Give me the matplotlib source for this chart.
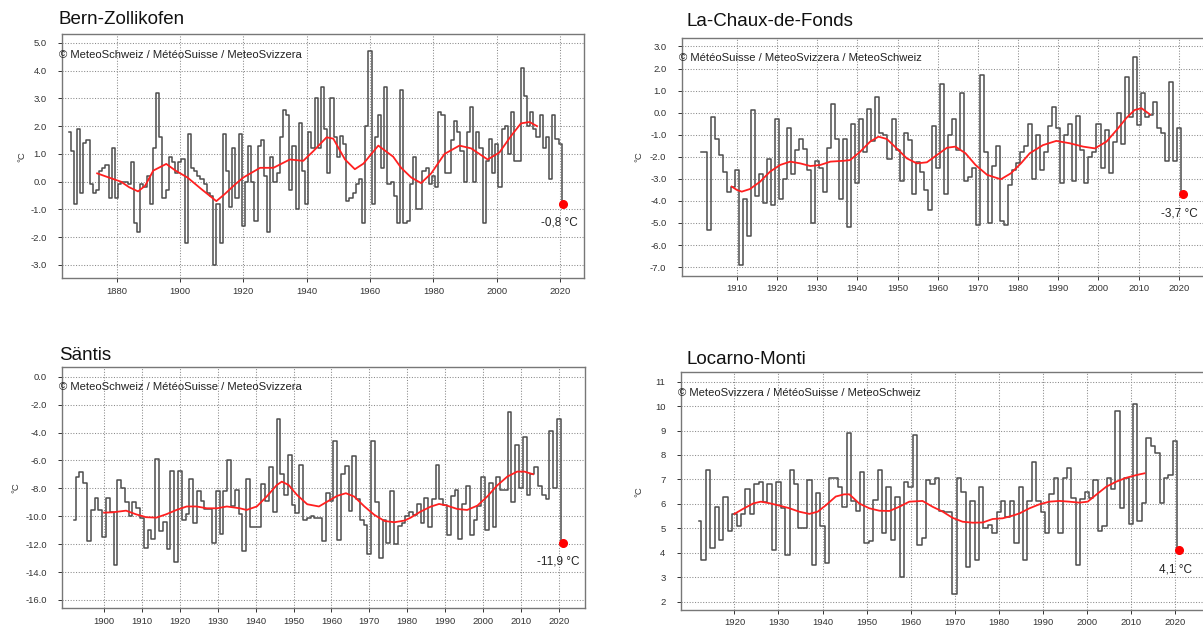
import numpy as np
import matplotlib
matplotlib.use("Agg")
import matplotlib.pyplot as plt

plt.rcParams['font.family'] = ['Liberation Sans', 'DejaVu Sans']

# ---------------- data ----------------
bern_temp = [1.8, 1.1, -0.8, 1.9, -0.4, 1.4, 1.5, -0.1, -0.4, -0.3,
             0.4, 0.5, 0.6, -0.6, 1.2, -0.6, -0.1, 0.0, 0.0, -0.1,
             0.7, -1.5, -1.8, -0.1, -0.2, 0.2, -0.8, 1.2, 3.2, 1.6,
             -0.6, -0.3, 0.9, 0.7, 0.3, 0.7, 0.8, -2.2, 1.7, 0.5,
             0.4, 0.2, 0.1, -0.1, -0.4, -0.5, -3.0, -0.8, -2.2, 1.7,
             0.4, -0.9, 1.2, -0.6, 1.7, -1.6, 0.0, 1.3, 0.0, -1.4,
             1.3, 1.5, 0.2, -1.8, 0.9, 0.0, 0.3, 1.6, 2.6, 2.4,
             -0.3, 1.3, -1.0, 2.1, 0.4, -0.8, 1.8, 1.2, 3.0, 1.2,
             3.4, 1.9, 0.3, 3.0, 1.6, 0.9, 1.65, 1.35, -0.7, -0.6,
             -0.4, -0.1, 0.1, -1.5, 2.0, 4.7, -0.8, 1.6, 2.4, 0.5,
             3.4, -0.1, 0.0, -0.5, -1.5, 3.3, -1.5, -1.4, -0.1, 0.9,
             -1.0, -1.0, 0.4, 0.5, -0.1, 0.2, -0.2, 2.5, 2.4, 0.3,
             0.3, 1.5, 2.2, 1.8, 1.1, 0.0, 1.8, 2.7, 0.0, 1.8,
             1.2, -1.5, 0.75, 1.55, 0.3, 1.35, -0.2, 1.9, 2.0, 1.0,
             2.5, 0.75, 0.75, 4.1, 3.1, 2.0, 2.5, 1.9, 1.6, 2.4,
             1.2, 1.6, 0.1, 2.4, 1.55, 1.35,
             -0.8]
bern_trend_year = [1873.9, 1877.6, 1881.4, 1884.0, 1886.8, 1889.0, 1891.6, 1895.7, 1898.6,
                   1902.4, 1906.7, 1911.5, 1914.2, 1917.4, 1920.0, 1925.3, 1929.5, 1934.7,
                   1938.9, 1942.1, 1946.3, 1948.4, 1952.1, 1955.2, 1957.9, 1962.6, 1967.3,
                   1969.8, 1973.0, 1976.1, 1979.3, 1983.5, 1988.2, 1991.9, 1997.1, 2000.8,
                   2004.5, 2007.6, 2010.3, 2012.7]
bern_trend = [0.3, 0.15, 0.0, -0.2, -0.35, -0.15, 0.4, 0.64, 0.4,
              0.15, -0.26, -0.7, -0.44, -0.1, 0.15, 0.5, 0.5, 0.8,
              0.75, 1.1, 1.6, 1.55, 0.8, 0.45, 0.65, 1.3, 0.9,
              0.5, 0.15, -0.05, 0.3, 1.0, 1.3, 1.2, 0.8, 1.05,
              1.65, 2.1, 2.15, 2.0]

lcdf_temp = [-1.8, -1.8, -5.3, -0.2, -1.2, -1.9, -2.7, -3.6, -3.35, -2.6,
             -6.9, -3.9, -5.6, 0.1, -3.8, -2.8, -4.1, -2.1, -4.2, -0.3,
             -3.9, -3.0, -0.7, -2.8, -1.7, -1.2, -1.65, -2.6, -5.0, -2.2,
             -2.5, -3.6, -1.6, 0.4, -1.2, -3.9, -1.2, -5.2, -0.5, -3.2,
             -0.3, -1.8, 0.15, -1.3, 0.7, -0.9, -1.0, -2.1, -0.3, -1.7,
             -3.1, -0.9, -1.25, -3.7, -2.25, -2.7, -3.5, -4.4, -0.6, -2.5,
             1.3, -3.7, -1.0, -0.3, -1.7, 0.9, -3.1, -2.9, -2.5, -5.1,
             1.7, -1.8, -5.0, -2.4, -1.5, -4.9, -5.1, -3.3, -2.6, -2.3,
             -1.8, -1.5, -0.5, -3.0, -1.0, -2.6, -1.8, -0.6, 0.27,
             -0.7, -3.2, -1.0, -0.5, -3.1, -0.15, -1.7, -3.2, -2.0, -1.8,
             -0.5, -2.5, -0.8, -2.75, -1.35, 0.0, -1.4, 1.6, -0.2, 2.5,
             -0.55, 0.9, -0.2, -0.1, 0.5, -0.7, -0.9, -2.2, 1.4, -2.2,
             -0.7,
             -3.7]
lcdf_trend_year = [1908.75, 1910.0, 1911.25, 1913.3, 1915.8, 1918.3, 1920.8, 1923.3, 1925.8,
                   1928.3, 1930.8, 1933.3, 1936.7, 1938.2, 1940.7, 1943.2, 1945.25, 1947.3,
                   1949.8, 1952.3, 1954.8, 1957.3, 1959.8, 1962.3, 1964.4, 1966.9, 1969.4,
                   1972.3, 1975.7, 1978.2, 1980.7, 1982.9, 1986.2, 1989.5, 1992.9, 1996.2,
                   1999.1, 2002.0, 2004.5, 2007.0, 2009.0, 2010.7, 2012.8]
lcdf_trend = [-3.35, -3.5, -3.58, -3.46, -3.13, -2.67, -2.37, -2.22, -2.3,
              -2.42, -2.37, -2.22, -2.18, -2.15, -1.77, -1.31, -1.09, -1.19,
              -1.62, -2.07, -2.3, -2.25, -1.92, -1.59, -1.54, -1.84, -2.37,
              -2.82, -3.02, -2.75, -2.3, -1.84, -1.47, -1.28, -1.39, -1.54,
              -1.62, -1.31, -0.79, -0.23, 0.12, 0.2, -0.08]

saentis_temp = [-10.3, -7.2, -6.85, -7.6, -11.8, -9.55, -8.66, -9.55, -11.5, -8.66,
                -9.7, -13.5, -7.4, -8.0, -8.95, -10.0, -9.0, -9.4, -10.1, -12.25,
                -11.0, -11.6, -5.9, -11.05, -10.4, -12.35, -6.75, -13.25, -6.75, -10.3,
                -9.85, -7.3, -10.45, -8.2, -8.9, -9.5, -9.5, -11.95, -8.2, -11.3,
                -8.2, -5.95, -9.25, -8.1, -9.85, -12.5, -7.3, -10.75, -10.75, -10.75,
                -7.7, -8.9, -6.5, -9.7, -3.0, -7.0, -8.5, -5.6, -9.2, -9.8,
                -6.3, -10.3, -10.15, -10.0, -10.15, -10.15, -11.8, -8.3, -8.9, -4.6,
                -11.7, -7.0, -6.4, -9.6, -5.7, -8.8, -10.3, -10.6, -12.7, -4.6,
                -8.95, -13.0, -10.3, -11.95, -8.2, -12.0, -10.7, -10.5, -9.95,
                -9.7, -9.9, -9.15, -10.5, -8.7, -10.75, -8.75, -6.3, -8.8, -9.2,
                -11.35, -8.55, -8.1, -11.6, -9.1, -7.8, -11.35, -10.3, -9.3, -7.2,
                -11.0, -7.6, -10.75, -7.2, -8.1, -8.1, -2.5, -9.0, -4.9, -7.95,
                -4.3, -8.5, -7.0, -6.5, -7.8, -8.5, -8.8, -3.9, -8.0, -3.0,
                -11.9]
saentis_trend_year = [1900.0, 1902.2, 1905.8, 1908.4, 1911.1, 1913.8, 1916.4, 1919.1, 1921.8,
                      1924.4, 1927.1, 1929.8, 1932.4, 1935.8, 1937.6, 1940.3, 1942.9, 1945.6,
                      1946.9, 1948.7, 1950.9, 1953.6, 1956.7, 1958.9, 1961.5, 1963.8, 1966.0,
                      1968.7, 1971.3, 1974.0, 1976.6, 1979.3, 1980.9, 1983.5, 1986.2, 1988.4,
                      1990.5, 1993.2, 1995.8, 1998.5, 2001.1, 2003.7, 2006.4, 2009.0, 2010.9,
                      2013.2]
saentis_trend = [-9.74, -9.72, -9.6, -9.86, -10.07, -10.1, -9.86, -9.55, -9.3,
                 -9.3, -9.43, -9.43, -9.3, -9.43, -9.55, -9.3, -8.59, -7.76,
                 -7.52, -7.76, -8.47, -9.14, -9.3, -8.95, -8.54, -8.35, -8.59,
                 -9.3, -9.9, -10.34, -10.43, -10.31, -10.1, -9.67, -9.31, -9.12,
                 -9.24, -9.48, -9.55, -9.24, -8.59, -7.8, -7.16, -6.8, -6.8,
                 -6.99]

locarno_temp = [5.31, 3.7, 7.38, 4.2, 5.88, 4.52, 6.3, 4.9, 5.6, 5.1,
                5.6, 6.6, 5.6, 6.8, 6.88, 6.06, 6.8, 4.1, 6.88, 5.82,
                3.9, 7.38, 6.8, 5.0, 5.0, 6.97, 3.5, 6.43, 5.1, 3.6,
                7.07, 7.07, 6.67, 5.88, 8.9, 6.1, 5.7, 7.3, 4.4, 4.5,
                6.15, 7.38, 4.8, 6.67, 4.52, 6.3, 3.0, 6.88, 6.67, 8.8,
                4.3, 4.6, 6.97, 6.8, 7.07, 5.7, 5.65, 5.65,
                2.3, 7.07, 6.5, 3.4, 6.1, 3.7, 6.67, 5.0, 5.15, 4.8,
                5.68, 6.1, 5.48, 6.1, 4.4, 6.67, 3.7, 6.1, 7.7, 6.1,
                5.68, 4.8, 6.4, 7.07, 4.8, 7.07, 7.48, 6.23, 3.5, 6.18,
                6.47, 6.25, 6.97, 4.9, 5.1, 7.07, 6.6, 9.8, 5.82, 7.07,
                5.16, 10.07, 5.3, 6.05, 8.7, 8.38, 8.09, 6.05, 7.07, 7.2,
                8.57,
                4.1]
locarno_trend_year = [1920.0, 1921.9, 1924.3, 1926.0, 1928.1, 1930.2, 1932.5, 1934.7, 1937.0,
                      1938.9, 1940.8, 1943.0, 1944.9, 1946.1, 1948.3, 1950.6, 1952.9, 1955.2,
                      1957.4, 1959.7, 1962.7, 1965.0, 1967.3, 1969.5, 1971.8, 1974.1, 1976.4,
                      1978.6, 1980.9, 1983.2, 1984.7, 1987.0, 1989.2, 1991.5, 1993.8, 1996.0,
                      1998.3, 2000.2, 2002.1, 2004.4, 2006.7, 2009.0, 2011.3, 2013.1]
locarno_trend = [5.59, 5.79, 6.02, 6.09, 6.02, 5.93, 5.82, 5.68, 5.59,
                 5.68, 5.95, 6.3, 6.39, 6.39, 6.02, 5.82, 5.72, 5.71,
                 5.88, 6.09, 6.12, 5.88, 5.68, 5.43, 5.27, 5.23, 5.24,
                 5.38, 5.41, 5.52, 5.61, 5.82, 5.98, 6.09, 6.12, 6.09,
                 6.05, 6.09, 6.37, 6.7, 6.91, 7.07, 7.18, 7.25]

last_year = 2021

panels = [
    dict(title="Bern-Zollikofen", vals=bern_temp, ty=bern_trend_year, tv=bern_trend,
         box=(62, 34, 584.3, 278.3), xlim=(1862.8, 2027.6), ylim=(-3.48, 5.32),
         xticks=list(range(1880, 2021, 20)), yticks=np.arange(-3, 5.01, 1.0), fmt="{:.1f}",
         title_xy=(59, 20), copy="© MeteoSchweiz / MétéoSuisse / MeteoSvizzera",
         label="-0,8 °C", ylab_x=26),
    dict(title="La-Chaux-de-Fonds", vals=lcdf_temp, ty=lcdf_trend_year, tv=lcdf_trend,
         box=(681.7, 38.3, 1205, 275.7), xlim=(1896.3, 2026.5), ylim=(-7.39, 3.37),
         xticks=list(range(1910, 2021, 10)), yticks=np.arange(-7, 3.01, 1.0), fmt="{:.1f}",
         title_xy=(687, 22), copy="© MétéoSuisse / MeteoSvizzera / MeteoSchweiz",
         label="-3,7 °C", ylab_x=643),
    dict(title="Säntis", vals=saentis_temp, ty=saentis_trend_year, tv=saentis_trend,
         box=(62, 366.7, 585, 608.3), xlim=(1888.9, 2026.9), ylim=(-16.6, 0.72),
         xticks=list(range(1900, 2021, 10)), yticks=np.arange(-16, 0.01, 2.0), fmt="{:.1f}",
         title_xy=(59, 355), copy="© MeteoSchweiz / MétéoSuisse / MeteoSvizzera",
         label="-11,9 °C", ylab_x=20),
    dict(title="Locarno-Monti", vals=locarno_temp, ty=locarno_trend_year, tv=locarno_trend,
         box=(680.7, 372.3, 1204, 610), xlim=(1907.8, 2026.6), ylim=(1.66, 11.38),
         xticks=list(range(1920, 2021, 10)), yticks=np.arange(2, 11.01, 1.0), fmt="{:.0f}",
         title_xy=(687, 360), copy="© MeteoSvizzera / MétéoSuisse / MeteoSchweiz",
         label="4,1 °C", ylab_x=643),
]

W, H = 1203, 628
fig = plt.figure(figsize=(W / 100, H / 100), dpi=100)

grid_kw = dict(color="#8a8a8a", linestyle=(0, (1, 1.6)), linewidth=0.75)

for p in panels:
    l, t, r, b = p["box"]
    ax = fig.add_axes([l / W, 1 - b / H, (r - l) / W, (b - t) / H])
    vals = np.array(p["vals"])
    years = np.arange(last_year - len(vals) + 1, last_year + 1)
    ax.set_xlim(*p["xlim"])
    ax.set_ylim(*p["ylim"])
    ax.set_xticks(p["xticks"])
    ax.set_yticks(p["yticks"])
    ax.set_yticklabels([p["fmt"].format(v) for v in p["yticks"]])
    ax.grid(True, **grid_kw)
    ax.set_axisbelow(True)
    ax.step(years, vals, where="mid", color="#4d4d4d", linewidth=1.1, zorder=3)
    ax.plot(p["ty"], p["tv"], color="#ff2020", linewidth=1.3, zorder=4)
    ax.plot([years[-1]], [vals[-1]], "o", color="#ff0000", markersize=5.5, zorder=5)
    ax.annotate(p["label"], (years[-1], vals[-1]), xytext=(-4, -19),
                textcoords="offset pixels", ha="center", va="center",
                fontsize=8.5, color="#222222", zorder=6)
    ax.text(-0.005, 0.915, p["copy"], transform=ax.transAxes, fontsize=8.1,
            color="#222222", ha="left", va="center")
    for s in ax.spines.values():
        s.set_color("#777777")
        s.set_linewidth(1.0)
    ax.tick_params(axis="both", labelsize=6.8, colors="#333333", length=3, width=0.7)
    ax.tick_params(axis="y", pad=8)
    ax.tick_params(axis="x", pad=3)
    ax.set_ylabel("°C", fontsize=6.8, color="#333333")
    # place the unit label at a fixed horizontal pixel position
    ax.yaxis.set_label_coords((p["ylab_x"] - l) / (r - l), 0.5)
    fig.text(p["title_xy"][0] / W, 1 - p["title_xy"][1] / H, p["title"],
             fontsize=13.5, color="#111111", ha="left", va="center")

fig.savefig("out.png", dpi=100)
